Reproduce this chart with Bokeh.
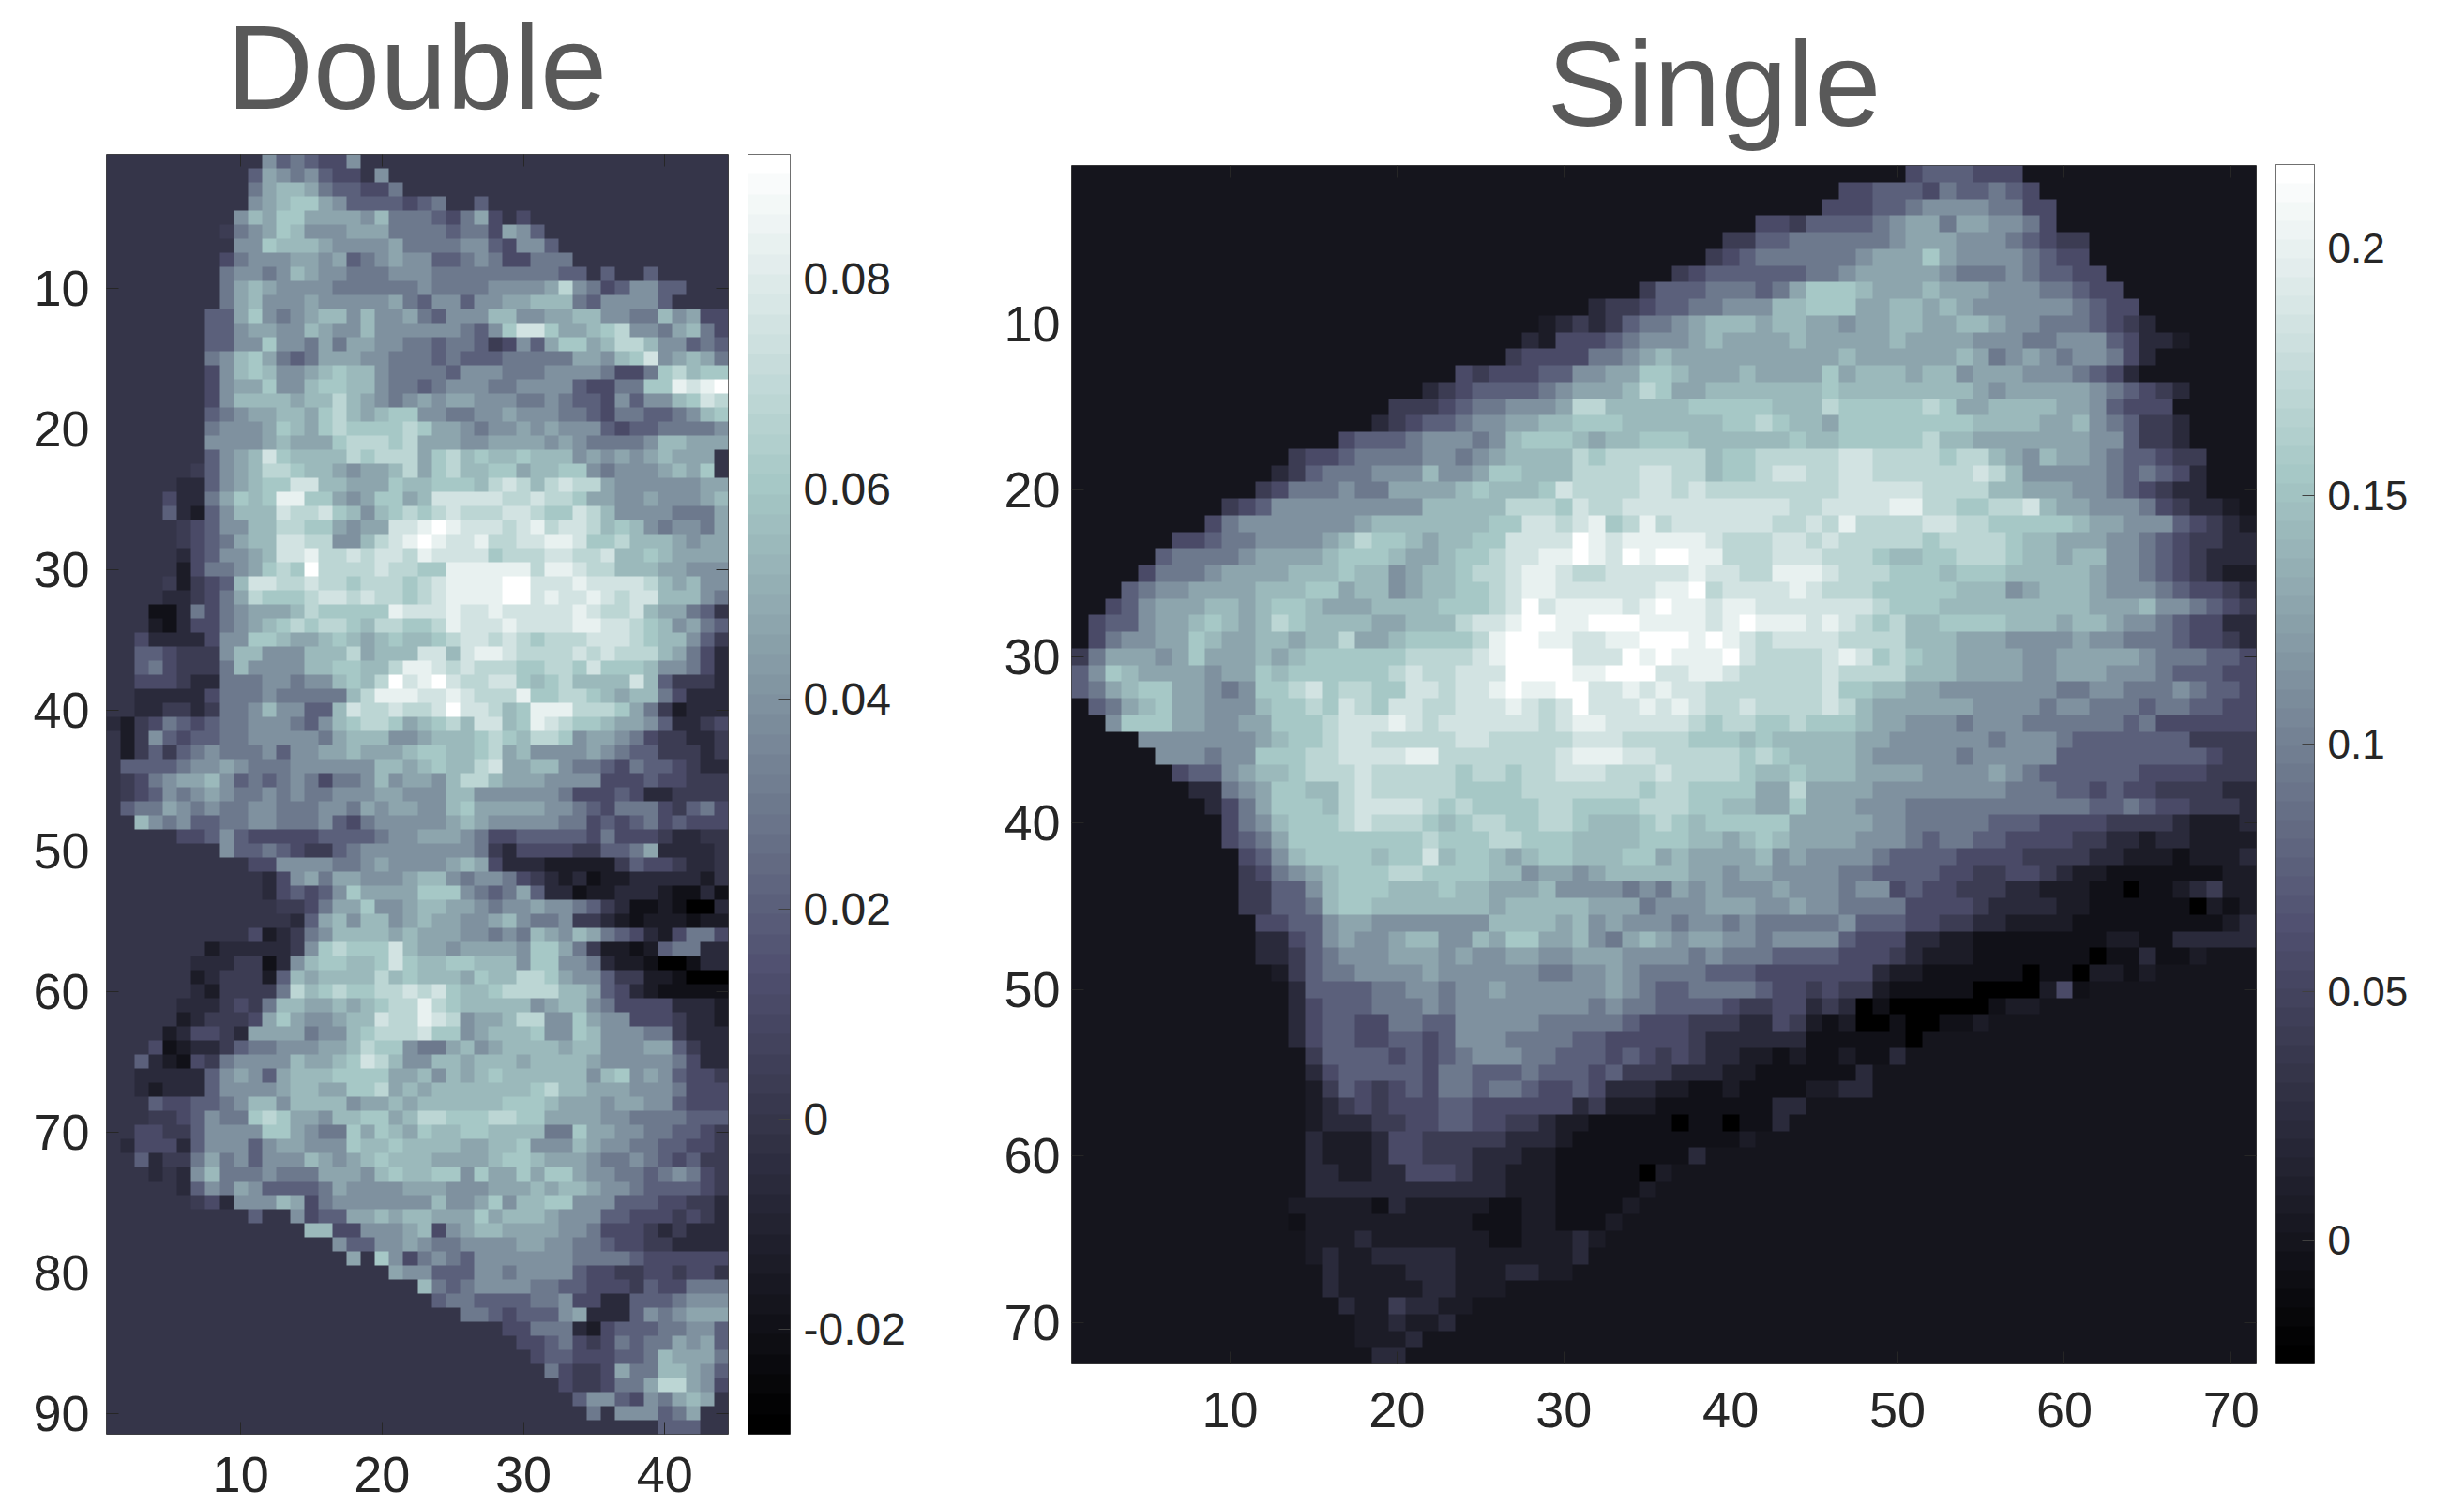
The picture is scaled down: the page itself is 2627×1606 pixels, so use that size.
import numpy as np
from bokeh.embed import file_html
from bokeh.resources import INLINE
from bokeh.layouts import row
from bokeh.models import (FixedTicker, LinearAxis, LinearColorMapper, Range1d, Title)
from bokeh.plotting import figure

# Chart values -------------------------------------------------------------
TITLE_LEFT, TITLE_RIGHT = "Double", "Single"
N_COLS_D, N_ROWS_D = 44, 91
N_COLS_S, N_ROWS_S = 71, 72
RANGE_D = (-0.03, 0.0919)
RANGE_S = (-0.025, 0.2168)
X_TICKS_D = [10, 20, 30, 40]
Y_TICKS_D = [10, 20, 30, 40, 50, 60, 70, 80, 90]
X_TICKS_S = [10, 20, 30, 40, 50, 60, 70]
Y_TICKS_S = [10, 20, 30, 40, 50, 60, 70]
CB_TICKS_D = [-0.02, 0, 0.02, 0.04, 0.06, 0.08]
CB_LABELS_D = ["-0.02", "0", "0.02", "0.04", "0.06", "0.08"]
CB_TICKS_S = [0, 0.05, 0.1, 0.15, 0.2]
CB_LABELS_S = ["0", "0.05", "0.1", "0.15", "0.2"]
# Each row: (first filled column, brightness read per cell on a 0..F scale, "." = background 0)
DOUBLE_ROWS = [
(12,"8676558"),(11,"69878655.8"),(11,"79AA9766557"),(11,"89ABB986666567..6"),
(10,"8A9BB99998A77765795.5"),(9,"4789BA88899977776775986"),(10,"88BAAA98888977778865886"),
(9,"5788899896789886678755777"),(9,"78878A98877788877777777766.6..6"),
(9,"79A988887777778777788889C87568866"),(9,"79A8889888889768868899AAA7688886"),
(8,"669B8789AA8A88976888AA8899AA8877A8955"),(8,"6689988A988A888888768BDDB99ABC8879A75"),
(8,"66 88B88 79799 88776 77645 869BB 9ACCA 88676"),(8,"78AB9 76799 98877 76766 67777 79 98ABD 89A97"),
(8,"58ABA 889AB AA877 77688 87778 88 8 7 5 5 7 B C A B B D 8"),(8,"589 9B88ABB AA877 67888 77888 8655 77BBE DEF"),
(8,"58AAA A9AAC A9878 98998 88778 7665 86 88ABD C"),(8,"6 7899 AA9BC A9ABB 88778 89888 77657 76678 AB"),
(8,"78889 BA9BC BBBBC B9987 88989 88865 66777 789"),(8,"88889 A999B CCCBC 99988 99998 98777 78AA9 99"),
(8,"689AD BAAAA CBCCC 9BCAB AABAA A8989 89A99 9"),(7,"4689A CCBAA 9899A C9BCA ABB9A ABB87 8889A 9B"),
(6,"33689 ABBDD AA999 BAABB BACDC ACDCC 98888 8899C"),(5,"533 79BAB EEBB9 89BB9 ADDDD DCCDC CB998 89888 9AB"),
(5,"6 3268 AAADC CDBA8 ABCBC DCCCD DCBBD CA888 87779 A"),(6,"45688 AACCB B9899 DDEFE DDDCD ECDDC AB A87 88 7 99"),
(6,"45679 AADDC C88AC DEFED DECCD DEEDB BCAAA 98999"),(6,"35688 9ADDE CCDCD DCEDD DDBCC CDDCC DAABA 9 9 9 9 8"),
(6,"25778 9BCBF CCCCD CCBBE EEEEE CEEDC CAAA9 988 8"),(5,"42456 ADDCC DCCBC CCBCD EEEEF FDDDE DDDDC A9A88"),
(5,"33457 9CBBB CDDCD CCBCD EEEEF FDEDD EDCDD AAA87"),(4,"11 37 57899 9ACBB BBBED DDEDD EDDDD DEDCC DA997 6"),
(4,"21 35 57 89AB CBCCB ACCBB CEDDD EDDDD EEDDC BA897 6"),(3,"53333 588BB A99AB A9ABA ABCDD CDCBC CCDDD CBAA8 64"),
(3,"66544 48AA8 88AAA C9AAA DDADE EDCCC CDCDC CCA97 53"),(3,"67544 47A88 88AAB BAACE EDCDC CCBBC CBDBB BA887 53"),
(3,"55543 37778 878 8A BACFD EFDCC DDBAB CAAAA D A64 443"),(3,"33333 57778 77777 ACEEE DDEDC CCEBB CCBA9 AA753 332"),
(3,"33443 47 78A88 66 ADC CDCCD FDDCA BEEEC CCB97 4233 3"),
(1,"32457 65677 88876 8ABCC B9ABC ADDAB EDCBB A9986 33 45"),(2,"24865 66778 88887 9AAA8 89AAA BCBAC CB899 87 5 4 4 3 3 4"),
(2,"24646 78777 86889 9A999 ABBAA BC9A8 88898 76644 4 3 4"),(2,"66667 88987 77888 888AA 9ABAA CD99A A8776 57665 4 3 3 4"),
(2,"45789 9A867 67875 778A8 998AC CA999 888 8 5 5 5 6 5 5 4 4 4 4"),(2,"45687 89877 87877 8889 9 888 AA888 88875 55653 34 4 4 4"),
(2,"67798 78778 87778 87989 988AB 99999 88765 77754 6755"),
(3,"A8786 67788 77786 57888 88 9A 98888 87756 56756 555"),(6,"55 68 65555 56666 78899 98755 66666 57555 433"),
(9,"86 67 65 44 67888 88888 74355 55 44 66 79 3333"),(11,"55888 87789 88889 A9 5 3 3 3 2 2 2 2 2 4 6 5 5 4 3 3"),
(12,"35897 99888 9AA87 88754 32 31 22 33 3 3 3 2"),(12,"35656 8B999 9BBB8 76796 33122 33 3 2 1 1 3 1"),
(13,"44 57 99B88 9AA99 87889 88 7 6 4 3 1 1 2 1 0 0 3 2 1"),(14,"369 A8AA8 9A998 89A87 78443 21 2 2 2 1 2 2 3"),
(11,"5 2 3 4 7 8AAAA 9A999 88787 A98A9 7653 25 77 5 3 3 3"),(8,"23333 3 4 8B CB BBDA9 98999 98BB9 74221 26773 3"),
(7,"3 3 3 4 4 1 3 8A BBAAB DBAAB BAAA8 BB887 32210 01 33"),(7,"23 44 42 6A9 AAAAC ABAAA 9BAAC CB988 64422 10 00 0"),
(7,"32 44 4 4 7C AB CBBCC DCDBA ABCCC CAA96 53211 11 1"),(6,"33 34 54 7AA 99A9A BCCEC BAAAA A89AA 87555 53332"),
(6,"23 44 45 9B9 889AA DCCED C899A CC88B 98855 54332"),(5,"2 3 55 4 3 9 9 9 9 7 8 8 A B C C C D B B 8 9 A A A B 8 8 B A 8 8 8 7 7 4 3 3 3"),
(4,"51 2 3 3 4 6 7 7 8 8 8 9 9 A C B B 8 7 7 9 A 8 9 A A A A 9 A A 8 8 8 9 9 6 4 3 3"),
(3,"63 2 1 5 4 7 8 8 8 8 A 9 9 A B D C A 8 8 A A 9 A A A 9 A A A A 9 8 8 8 8 8 7 5 3 3"),
(3,"33333 68986 9AAAB BBB99 A8A9A BAAAA AA8AB 89865 54"),(3,"32333 68888 9AA99 BBC9A 9AAAA AAABC AA999 88875 55"),
(4,"65566 78AA8 AAAA8 99A9A AAAAA BBBA9 99899 88 65 5 5"),(4,"44568 77BCB 998AA BB9AC CBBBC CBB99 99887 77766 65"),
(3,"55446 88 88B B98 77 B9BA9 BAABB AAAA7 7B998 87766 544"),(2,"35553 68886 89988 8BAAB AAAA9 9AAB8 88A98 87766 55 44"),
(3,"63447 97868 88A98 9ABAA A9999 ABBA9 99877 87656 44"),(4,"3.38A 77787 77999 8ABAA BB8B9 9B9BB 98877 67875 443"),
(6,"36879 86666 79888 89998 88999 A9AA9 88766 66543 3"),(7,"45388 8A95 7 88888 88A88 9B8AA BB888 66655 4433"),
(11,"6..85 669 9A9A A999B 9AAA9 88866 55545 43"),(15,"AA55 8889A 58 9AA 99998 87555 43433 3"),
(17,"866 88 98 77 88 88 99 88 77 65 54 43 33 3"),(18,"9.B85 787 68 88 88 88 77 77 65 55 55 5"),
(21,"988 666 88 78 88 86 55 44 55 45 5"),(23,"A76 78 88 87 76 65 55 46 55 77 7"),
(24,"677 666 677 855 33 66 67 88 8"),(26,"776 566 68 93 33 68 78 99 9"),
(29,"557 77 32 56 66 77 88 6"),(30,"55 67 54 57 67 79 89 6"),
(31,"566 55 56 67 A9 99 7"),(32,"754 45 97 7A A9 86"),
(33,"544 57 79 CC 98 5"),(34,"688 65 87 9A 9"),
(35,"7.88 86 79"),(40,"666"),
]
SINGLE_ROWS = [
(51,"5666555"),(47,"556665766765"),(46,"55566788887755"),(42,"554666678997998875"),
(40,"446677777789998887654 4"),(39,"456777777899 9B98888 7655"),(37,"45666666 77899 99987 77876 655"),
(35,"46667 77679 BBBA9 99A99 98887 7655"),(32,"34456 67788 8AABB B99AA 9A988 88887 655"),
(29,"23434 67789 AAA9A A9989 9AA99 AA988 77765 43"),(28,"32555 67888 9A999 9A999 99A99 99888 77888 65332"),
(27,"45555 77 89A 99999 99999 A9999 99A97 89878 8753"),(24,"54555 66889 9BBA9 99A99 99B9A AA9AA 89998 88765 3"),
(22,"34566 66789 99ACB 99AAA AAAAB AAAAA AAA98 99999 87654 3"),(20,"44456 77888 9CCAA AAABB BBBAA ACBBB BBCB9 9AAAA 99865 55"),
(19,"34566 78899 AABBB AAAAA ABBCB AA9BB BBBBB BAAAA 99A87 6443"),(17,"56667 88878 ABBBA 9AABB BAAAA AABAA BBBBB CAA99 99999 88644 3"),
(14,"45567 77788 78 9AA AACBC CCCCC ABBCC CCCDD CCCCB CCA98 A9987 66544"),(13,"34677 78 88A 889BB AAACC CCDDC CABBC DDCCD DCCCC CCDCA 88888 76765 3"),
(12,"45777 87799 99ABA AABDC CCCDD CDCCC CCCCC DDDDD CCCCA A9998 87654 33"),(10,"45688 88888 88AAA AACCC BDCCD DDDDD DDDDC CDDDD EECCB BCCDA 99888 75433 2"),
(9,"57888 88889 AAAAA AABBD DCDEB CECDD DDDDC CDCEC CCCDD CCBBB BBA99 88865 432"),(7,"55677 88889 ACBBA 9AABB DDDDF EDEEE EEDCC CDDCD CCCCC BCCCC BAA99 98876 54433"),
(6,"67777 89999 ABBBA 99ABB CDDEE FEDFE FFEEC CCDDD CCCBA ABBCC CBAA9 AA887 65433 3"),(5,"57778 9999A AABAA 89AAB CCDEE DCCDD DDDED DCCEE EDCCC BBBAB BBAAA AA988 76543 22"),
(4,"67889 999AA ABB9A A89AA BBCDE EDDDD DDEEF CDDDD EDCCC BBBBB AAA89 AAA98 88765 543"),(3,"56899 9AA9A BBA99 9AAAA BBBCD FDEEE EDEFE EDEED DDDDD DCBBB AAAAA AAAA9 99A88 76544 3"),
(2,"56689 9ABA9 ACBAA AA99A AACDD EFFEE FFFEE EEDEF EEEDE DCBCA ABBBB AAA9A A9887 65533"),(2,"57889 9BA99 AA9AA C99AB BBBCE FFEED DEEFF FEFED CDDDD CCCCA AA999 88889 88777 65543"),
(1,"47999 89B99 9A9AB BBBBB CCCCD EFFFF DDDFE FEEEF DCCCC DEDBC BAA99 99889 99998 77766 54"),(1,"68BA9 99989 9BABB BBBBC DCCDD DFFFF EEFFF DDEED CCCCC DCCCC AAA99 99889 99888 76665 5"),
(1,"679AB B9987 8BBCD BCCBB DDCDD EFEEF FDDED EDDCC CCCCC DBBAA 99888 88887 78877 78766 55"),
(2,"679AB 99888 ABBCB DCBDD CCDDD EDCDF DDDED EDCCD CCCCD CA999 99988 88788 77767 76655"),
(3,"8BBB9 98899 BBBCD DDEDC DDDDD DCDEE DDDDD CBCCB BCBBB A9988 87888 77777 76755 5555"),
(5,"88888 889AB BCDDC CCCCD DCCCC CDDDC CCCBB BABAA AAA99 88888 87888 76666 66644 44"),
(6,"88878 8BBBC CDDDD EECCC CCCCD EEEDD CCCCC BCBAA AA988 88878 88886 66666 66654 44"),
(7,"56689 AABCC CDCCC CCBCC BCCDD DCCCD CCCCB AABAA A9999 88889 87666 66655 55444"),
(8,"33789 BBAAC DCCCC CBBBB CCCCC CCBCC BBBB9 9C999 98888 88887 77665 65544 4433"),
(9,"3579B BBACD DDDCB CBBBB CCBBB BCCCB BAA99 B9998 88777 77777 77766 76554 44333"),
(10,"578AB BBCDC CCBAB CCBBC CBAAA BCBAB BBBB9 99998 87777 76665 55544 44322 23"),
(10,"5679B BBBBB BBCBB BCCBB BAAAA BBBAA 9ABA9 99988 87677 66555 54433 23322 222"),
(11,"568AB BBBAB BDABB A9ABB AAABB 9A999 9A898 88876 66655 55444 43322 21222 3"),
(11,"4578 9ABBB CCBBB BAA89 98 9AA AAA99 89988 88776 66655 44554 32211 11111 22"),
(11,"44668 ABBBA AABAA 999A8 88878 79898 88988 87885 65544 43322 21101 12342 2"),
(11,"44667 ABBAA AAAAA 9AAAA A9997 88899 98898 87777 55554 33332 21111 11021 22"),
(12,"55668 99888 8888A AAA9A 89888 78878 77777 86665 54433 22221 11111 11123 3"),
(12,"33568 98 89A A88A9 BB99A 87 9A9 8 99 88 78 88 86 55 53 32 21 11 11 11 12 21 13 33 33"),
(12,"33467 88899 98988 99889 99888 87877 76666 55543 22211 11111 01131 12"),
(13,"24677 88889 88888 87788 98777 76665 55555 53221 11111 01102 21 2"),
(14,"36666 77887 88988 88889 87667 77765 54544 21111 10000 251"),
(14,"35666 77787 88888 88878 77666 65445 53430 10000 00122"),
(14,"35665 57766 88888 77777 65554 44335 42120 01001 12"),
(14,"35665 56656 88877 77665 55554 33333 31111 110"),
(15,"46666 56567 88877 66656 54543 32212 11211 3"),
(15,"35666 66577 66676 66564 44333 22111 1113"),
(15,"24654 56577 67765 56533 32211 21111 2233"),
(15,"23454 55566 55555 53422 21111 11133"),
(15,"23334 45566 55443 22111 11011 011 3"),
(15,"32223 55444 44333 21111 11111 12"),
(15,"32223 55444 33322 11111 1113"),
(15,"33223 35554 33222 11111 02"),
(15,"33333 33333 33222 11111 2"),
(14,"22222 13222 22112 21111 2"),
(14,"12222 22222 21112 21112"),
(15,"22232 22222 21122 232"),
(15,"23223 33332 22222 23"),
(16,"32222 33322 23322"),
(16,"32222 23322 2"),
(17,"32243 322"),
(18,"223223"),
(18,"2223"),
(19,"33"),
]

# Style ---------------------------------------------------------------------
FONT = "Liberation Sans"
INK = "#262626"
TITLE_INK = "#595959"
FRAME = "#404040"
# brightness read per cell -> place on the colour scale
SHADE = [0.0, 0.085, 0.14, 0.2, 0.27, 0.34, 0.41, 0.49, 0.57, 0.63, 0.69, 0.75, 0.81, 0.87, 0.93, 1.0]


def bone_palette(n=64):
    s = np.linspace(0, 1, n)
    r = np.interp(s, [0, 0.746, 1], [0, 0.652, 1])
    g = np.interp(s, [0, 0.365, 0.746, 1], [0, 0.319, 0.786, 1])
    b = np.interp(s, [0, 0.365, 1], [0, 0.444, 1])
    return ["#%02x%02x%02x" % (int(a * 255), int(c * 255), int(d * 255)) for a, c, d in zip(r, g, b)]


PAL = bone_palette()
CODES = "0123456789ABCDEF"


def build(rows, ncol, nrow, rng):
    low, high = rng
    levels = {ch: low + SHADE[i] * (high - low) for i, ch in enumerate(CODES)}
    levels["."] = 0.0
    m = np.zeros((nrow, ncol))
    for r, (start, text) in enumerate(rows[:nrow]):
        for c, ch in enumerate(text.replace(" ", "")):
            if start - 1 + c < ncol:
                m[r, start - 1 + c] = levels[ch]
    return m


def base_figure(w, h, xr, yr, left, right, top, bottom):
    p = figure(width=w, height=h, x_range=xr, y_range=yr,
               output_backend="svg", toolbar_location=None, tools="",
               min_border_left=left, min_border_right=right, min_border_top=top, min_border_bottom=bottom,
               x_axis_location=None, y_axis_location=None, outline_line_color=FRAME, outline_line_width=1,
               background_fill_color=None, border_fill_color=None, frame_align=False)
    p.grid.visible = False
    p.margin = (0, 0, 0, 0)
    return p


def heat(matrix, rng, xt, yt, w, h, left, right, top, bottom, fs, sx, sy):
    nrow, ncol = matrix.shape
    p = base_figure(w, h, Range1d(0.5, ncol + 0.5), Range1d(nrow + 0.5, 0.5), left, right, top, bottom)
    mapper = LinearColorMapper(palette=PAL, low=rng[0], high=rng[1])
    p.image(image=[matrix], x=0.5, y=0.5, dw=ncol, dh=nrow, color_mapper=mapper)
    for side, ticks, lab in (("below", xt, True), ("above", xt, False), ("left", yt, True), ("right", yt, False)):
        ax = LinearAxis(ticker=FixedTicker(ticks=ticks), axis_line_color=None, major_tick_in=13, major_tick_out=0,
                        minor_tick_line_color=None, major_tick_line_color=INK, major_tick_line_width=1,
                        major_label_text_font=FONT, major_label_text_color=INK,
                        major_label_text_font_size=f"{fs}px" if lab else "1px",
                        major_label_overrides={} if lab else {t: "" for t in ticks},
                        major_label_standoff=(sy if side == "below" else sx) if lab else 0)
        if side == "below":
            ax.major_label_text_line_height = 0.6
        p.add_layout(ax, side)
    return p


def colorbar(rng, ticks, labels, w, h, left, right, top, bottom, fs):
    p = base_figure(w, h, Range1d(0, 1), Range1d(rng[0], rng[1]), left, right, top, bottom)
    mapper = LinearColorMapper(palette=PAL, low=rng[0], high=rng[1])
    grad = np.linspace(rng[0], rng[1], 64).reshape(64, 1)
    p.image(image=[grad], x=0, y=rng[0], dw=1, dh=rng[1] - rng[0], color_mapper=mapper)
    ax = LinearAxis(ticker=FixedTicker(ticks=ticks), axis_line_color=None, major_tick_in=13, major_tick_out=0,
                    minor_tick_line_color=None, major_tick_line_color=FRAME, major_tick_line_width=1,
                    major_label_text_font=FONT, major_label_text_color=INK, major_label_text_font_size=f"{fs}px",
                    major_label_standoff=14,
                    major_label_overrides={t: s for t, s in zip(ticks, labels)})
    p.add_layout(ax, "right")
    return p


dbl = build(DOUBLE_ROWS, N_COLS_D, N_ROWS_D, RANGE_D)
sgl = build(SINGLE_ROWS, N_COLS_S, N_ROWS_S, RANGE_S)

H = 1604
EXTRA = 40  # room above the page for the tall "Double" title's line box
p1 = heat(dbl, RANGE_D, X_TICKS_D, Y_TICKS_D, 785, H + EXTRA, 113, 9, 164 + EXTRA, H - 164 - 1365, 54, 18, 24)
p1.margin = (-EXTRA, 0, 0, 0)
c1 = colorbar(RANGE_D, CB_TICKS_D, CB_LABELS_D, 215, H, 12, 158, 164, H - 164 - 1365, 48)
p2 = heat(sgl, RANGE_S, X_TICKS_S, Y_TICKS_S, 1415, H, 142, 10, 176, H - 176 - 1278, 54, 12, 30)
c2 = colorbar(RANGE_S, CB_TICKS_S, CB_LABELS_S, 205, H, 11, 153, 175, H - 175 - 1279, 44)

for fig, text, shift, lift, lead in ((p1, TITLE_LEFT, 128, 43, 1.35), (p2, TITLE_RIGHT, 507, 31, 1.2)):
    fig.add_layout(Title(text=text, align="left", offset=shift, standoff=lift, text_font=FONT,
                         text_font_size="128px", text_font_style="normal", text_color=TITLE_INK,
                         text_line_height=lead), "above")

page = row(p1, c1, p2, c2, sizing_mode="fixed", spacing=0)
open("out.html", "w").write(file_html(page, INLINE))
